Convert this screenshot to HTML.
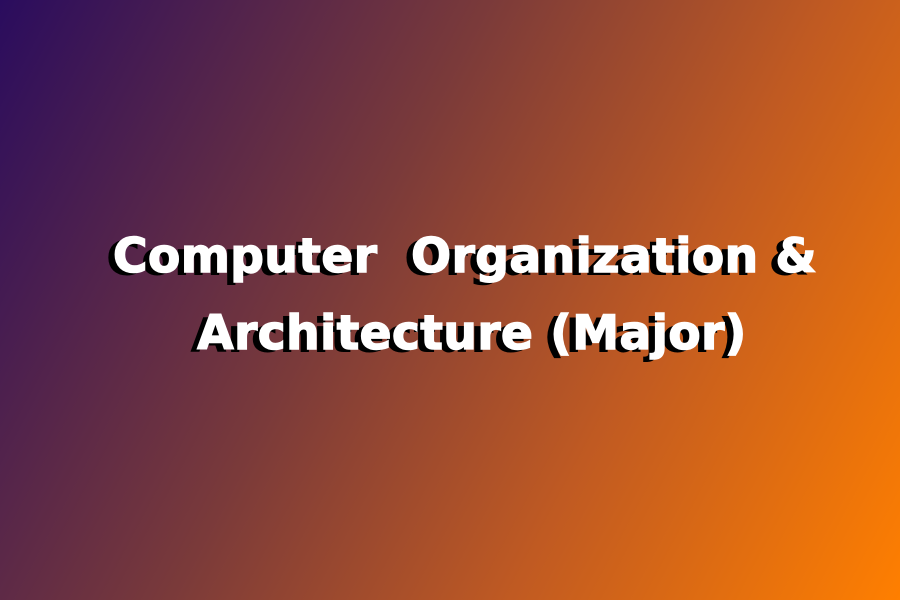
<!DOCTYPE html>
<html><head><meta charset="utf-8"><style>
html,body{margin:0;padding:0}
body{width:900px;height:600px;overflow:hidden;background:linear-gradient(118deg,#2a0c5e 0%,#7a3a3a 40%,#c05a22 68%,#ff7f00 100%);position:relative}
.t{position:absolute;left:0;width:900px;text-align:center;font-family:"DejaVu Sans","Liberation Sans",sans-serif;font-weight:bold;font-size:47px;letter-spacing:0.5px;color:#fff;-webkit-text-stroke:1.5px #fff;text-shadow:-7px 3px 0 #000;white-space:pre}
</style></head><body>
<div class="t" style="top:229px;left:15px">Computer  Organization &amp;</div>
<div class="t" style="top:306px;left:22px">Architecture (Major)</div>
</body></html>
